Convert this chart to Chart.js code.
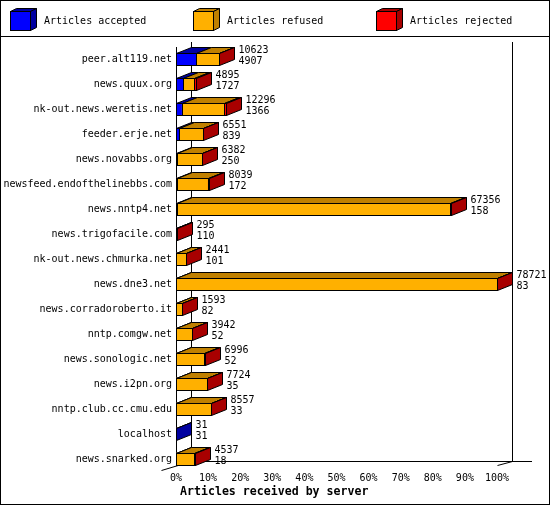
<!DOCTYPE html>
<html>
<head>
<meta charset="utf-8">
<script src="https://cdn.jsdelivr.net/npm/chart.js@4.4.1/dist/chart.umd.min.js"></script>
<style>
    html, body { margin: 0; padding: 0; background: #fff; }
    #wrap { width: 550px; height: 505px; }
</style>
</head>
<body>
<div id="wrap"><canvas id="serverChart" width="550" height="505"></canvas></div>
<script>
// Server names, top to bottom
const servers = [
    'peer.alt119.net', 'news.quux.org', 'nk-out.news.weretis.net', 'feeder.erje.net',
    'news.novabbs.org', 'newsfeed.endofthelinebbs.com', 'news.nntp4.net', 'news.trigofacile.com',
    'nk-out.news.chmurka.net', 'news.dne3.net', 'news.corradoroberto.it', 'nntp.comgw.net',
    'news.sonologic.net', 'news.i2pn.org', 'nntp.club.cc.cmu.edu', 'localhost', 'news.snarked.org'
];

// Articles offered (first number beside each bar)
const totals = [10623, 4895, 12296, 6551, 6382, 8039, 67356, 295, 2441, 78721, 1593, 3942, 6996, 7724, 8557, 31, 4537];

// Articles accepted (second number beside each bar)
const accepted = [4907, 1727, 1366, 839, 250, 172, 158, 110, 101, 83, 82, 52, 52, 35, 33, 31, 18];

// Articles refused / rejected (estimated from the bar segments)
const refused = [5696, 2798, 10370, 5692, 6117, 7567, 67158, 180, 2330, 78608, 1501, 3880, 6929, 7674, 8509, 0, 4509];
const rejected = [20, 370, 560, 20, 15, 300, 40, 5, 10, 30, 10, 10, 15, 15, 15, 0, 10];

const tickLabels = ['0%', '10%', '20%', '30%', '40%', '50%', '60%', '70%', '80%', '90%', '100%'];

const seriesNames = ['Articles accepted', 'Articles refused', 'Articles rejected'];
const frontColors = ['#0000ff', '#ffb000', '#ff0000'];
const darkColors = ['#0000a0', '#c08000', '#a80000'];

const maxTotal = Math.max(...totals);
const FONT = '"DejaVu Sans Mono", "Liberation Mono", monospace';
const DX = 15, DY = -6;

function poly(ctx, pts, fill) {
    ctx.beginPath();
    ctx.moveTo(pts[0][0], pts[0][1]);
    for (let k = 1; k < pts.length; k++) ctx.lineTo(pts[k][0], pts[k][1]);
    ctx.closePath();
    ctx.fillStyle = fill;
    ctx.fill();
    ctx.stroke();
}

const px = v => Math.round(v) + 0.5;

// Frame, legend and 3D faces around the bars
const frame3d = {
    id: 'frame3d',
    beforeDraw(chart) {
        const ctx = chart.ctx;
        ctx.save();
        ctx.fillStyle = '#fff';
        ctx.fillRect(0, 0, chart.width, chart.height);
        ctx.restore();
    },
    beforeDatasetsDraw(chart) {
        const ctx = chart.ctx;
        const xs = chart.scales.x;
        const area = chart.chartArea;
        const xL = px(xs.getPixelForValue(0));
        const xR = px(xs.getPixelForValue(maxTotal));
        const yFloor = px(area.bottom - 7);
        ctx.save();
        ctx.strokeStyle = '#000';
        ctx.lineWidth = 1;
        ctx.beginPath();
        // back walls
        ctx.moveTo(xL + DX, 42); ctx.lineTo(xL + DX, yFloor - 4);
        ctx.moveTo(xR + DX, 42); ctx.lineTo(xR + DX, yFloor - 4);
        // front axis
        ctx.moveTo(xL, 47); ctx.lineTo(xL, yFloor);
        // floor
        ctx.moveTo(xL + DX, yFloor - 4); ctx.lineTo(532, yFloor - 4);
        ctx.moveTo(xL - 15, yFloor + 5); ctx.lineTo(xL + DX, yFloor - 4);
        ctx.moveTo(xR, yFloor); ctx.lineTo(xR + DX, yFloor - 4);
        ctx.stroke();
        ctx.restore();
    },
    afterDatasetsDraw(chart) {
        const ctx = chart.ctx;
        const metas = [0, 1, 2].map(d => chart.getDatasetMeta(d));
        ctx.save();
        ctx.strokeStyle = '#000';
        ctx.lineWidth = 1;
        servers.forEach((name, i) => {
            let last = -1, lastX = 0, top = 0, bottom = 0;
            [accepted, refused, rejected].forEach((series, d) => {
                if (!series[i]) return;
                const bar = metas[d].data[i];
                const x0 = px(bar.base), x1 = px(bar.x);
                top = px(bar.y - bar.height / 2);
                bottom = px(bar.y + bar.height / 2);
                poly(ctx, [[x0, top], [x0 + DX, top + DY], [x1 + DX, top + DY], [x1, top]], darkColors[d]);
                ctx.strokeRect(x0, top, x1 - x0, bottom - top);
                last = d;
                lastX = x1;
            });
            if (last < 0) return;
            poly(ctx, [[lastX, top], [lastX + DX, top + DY], [lastX + DX, bottom + DY], [lastX, bottom]], darkColors[last]);

            const cy = (top + bottom) / 2;
            ctx.fillStyle = '#000';
            ctx.font = '10px ' + FONT;
            ctx.textAlign = 'left';
            ctx.textBaseline = 'middle';
            ctx.fillText(String(totals[i]), lastX + DX + 4, cy - 9);
            ctx.fillText(String(accepted[i]), lastX + DX + 4, cy + 2);
        });
        ctx.restore();
    },
    afterDraw(chart) {
        const ctx = chart.ctx;
        ctx.save();
        ctx.strokeStyle = '#000';
        ctx.lineWidth = 1;
        // outer border and legend separator
        ctx.strokeRect(0.5, 0.5, chart.width - 1, chart.height - 1);
        ctx.beginPath();
        ctx.moveTo(0, 36.5); ctx.lineTo(chart.width, 36.5);
        ctx.stroke();

        // legend cubes
        const legendX = [10, 193, 376];
        seriesNames.forEach((label, d) => {
            const x = legendX[d] + 0.5, y = 11.5, w = 20, h = 19;
            poly(ctx, [[x, y], [x + 6, y - 3], [x + w + 6, y - 3], [x + w, y]], darkColors[d]);
            poly(ctx, [[x + w, y], [x + w + 6, y - 3], [x + w + 6, y + h - 3], [x + w, y + h]], darkColors[d]);
            ctx.fillStyle = frontColors[d];
            ctx.fillRect(x, y, w, h);
            ctx.strokeRect(x, y, w, h);
            ctx.fillStyle = '#000';
            ctx.font = '10px ' + FONT;
            ctx.textAlign = 'left';
            ctx.textBaseline = 'middle';
            ctx.fillText(label, legendX[d] + 34, 21);
        });

        // axis title
        ctx.font = 'bold 11.6px ' + FONT;
        ctx.textAlign = 'left';
        ctx.fillText('Articles received by server', 180, 492);
        ctx.restore();
    }
};

function createServerChart() {
    const ctx = document.getElementById('serverChart').getContext('2d');
    new Chart(ctx, {
        type: 'bar',
        data: {
            labels: servers,
            datasets: [accepted, refused, rejected].map((series, d) => ({
                label: seriesNames[d],
                data: series,
                backgroundColor: frontColors[d],
                borderWidth: 0,
                barThickness: 12
            }))
        },
        options: {
            indexAxis: 'y',
            responsive: false,
            devicePixelRatio: 1,
            animation: false,
            layout: { padding: { top: 46.5, right: 53, left: 0, bottom: 0 } },
            plugins: {
                legend: { display: false },
                tooltip: { enabled: false }
            },
            scales: {
                x: {
                    stacked: true,
                    min: 0,
                    max: maxTotal,
                    grid: { display: false, drawTicks: false },
                    border: { display: false },
                    afterBuildTicks: scale => {
                        scale.ticks = tickLabels.map((t, k) => ({ value: k / (tickLabels.length - 1) * maxTotal }));
                    },
                    ticks: {
                        padding: 0.5,
                        color: '#000',
                        autoSkip: false,
                        maxRotation: 0,
                        font: { family: FONT, size: 10 },
                        callback: (v, k) => tickLabels[k]
                    },
                    afterFit: scale => { scale.height = 33.5; }
                },
                y: {
                    stacked: true,
                    grid: { display: false, drawTicks: false },
                    border: { display: false },
                    ticks: {
                        padding: 4,
                        color: '#000',
                        autoSkip: false,
                        font: { family: FONT, size: 10 }
                    },
                    afterFit: scale => { scale.width = 176; }
                }
            }
        },
        plugins: [frame3d]
    });
}

document.addEventListener('DOMContentLoaded', () => {
    createServerChart();
});
</script>
</body>
</html>
